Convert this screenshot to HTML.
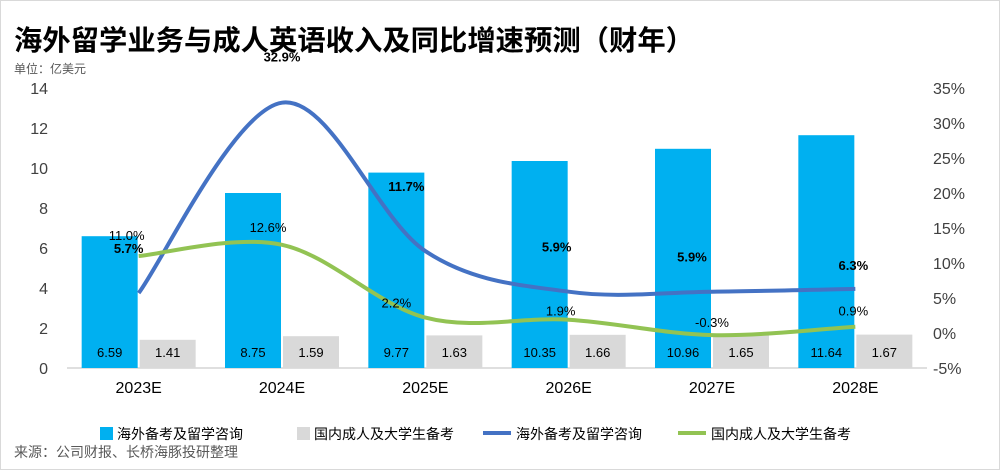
<!DOCTYPE html>
<html><head><meta charset="utf-8">
<style>
body{margin:0;background:#fff;}
svg text{font-family:"Liberation Sans","Noto Sans CJK SC",sans-serif;}
</style></head>
<body>
<svg id="c" width="1000" height="470" viewBox="0 0 1000 470" xmlns="http://www.w3.org/2000/svg">
<rect x="0.5" y="0.5" width="999" height="469" fill="#fff" stroke="#d9d9d9"/>
<text x="14" y="50" font-size="28" font-weight="bold" fill="#000" textLength="680" lengthAdjust="spacingAndGlyphs">海外留学业务与成人英语收入及同比增速预测（财年）</text>
<text x="14" y="73" font-size="12" fill="#595959">单位：亿美元</text>
<text x="14" y="457" font-size="14" fill="#595959">来源：公司财报、长桥海豚投研整理</text>
<g id="plot"></g>
</svg>
<script>
const categories=["2023E","2024E","2025E","2026E","2027E","2028E"];
const overseasRev=[6.59,8.75,9.77,10.35,10.96,11.64];
const domesticRev=[1.41,1.59,1.63,1.66,1.65,1.67];
const overseasGrowth=[5.7,32.9,11.7,5.9,5.9,6.3];
const domesticGrowth=[11.0,12.6,2.2,1.9,-0.3,0.9];
const leftTicks=[0,2,4,6,8,10,12,14];
const rightTicks=[-5,0,5,10,15,20,25,30,35];

const NS="http://www.w3.org/2000/svg";
const g=document.getElementById('plot');
const L=67,R=927,T=88,B=368;
const bw=(R-L)/categories.length;
const cx=i=>L+bw*(i+0.5);
const yL=v=>B-(v/14)*(B-T);
const yR=v=>B-((v+5)/40)*(B-T);
function mk(tag,a,txt){const e=document.createElementNS(NS,tag);for(const k in a)e.setAttribute(k,a[k]);if(txt!==undefined)e.textContent=txt;g.appendChild(e);return e;}

let ax=mk('line',{x1:L,x2:R,y1:B,y2:B,stroke:'#bfbfbf','stroke-width':1});


leftTicks.forEach(v=>{const t=mk('text',{x:L-19,y:yL(v)+6,'font-size':16,'text-anchor':'end',fill:'#404040'},v);

});
rightTicks.forEach(v=>{const t=mk('text',{x:933,y:yR(v)+6,'font-size':16,fill:'#404040'},v+'%');

});
categories.forEach((c,i)=>{const t=mk('text',{x:cx(i),y:393,'font-size':16,'text-anchor':'middle',fill:'#000'},c);

});
categories.forEach((c,i)=>{
 const x=cx(i);
 let b=mk('rect',{x:x-57,y:yL(overseasRev[i]),width:56,height:B-yL(overseasRev[i]),fill:'#00b0f0'});
 
 
 let b2=mk('rect',{x:x+1,y:yL(domesticRev[i]),width:56,height:B-yL(domesticRev[i]),fill:'#d9d9d9'});
 
 
 let t=mk('text',{x:x-29,y:357,'font-size':13,'text-anchor':'middle',fill:'#000'},overseasRev[i].toFixed(2));
 
 
 let t2=mk('text',{x:x+29,y:357,'font-size':13,'text-anchor':'middle',fill:'#000'},domesticRev[i].toFixed(2));
 
 
});
function smooth(pts){let d='M'+pts[0][0]+','+pts[0][1];
 for(let i=0;i<pts.length-1;i++){const p0=pts[i-1]||pts[i],p1=pts[i],p2=pts[i+1],p3=pts[i+2]||p2;const k=1/6;
 d+=` C${p1[0]+(p2[0]-p0[0])*k},${p1[1]+(p2[1]-p0[1])*k} ${p2[0]-(p3[0]-p1[0])*k},${p2[1]-(p3[1]-p1[1])*k} ${p2[0]},${p2[1]}`;}return d;}
let lb=mk('path',{d:smooth(overseasGrowth.map((v,i)=>[cx(i),yR(v)])),fill:'none',stroke:'#4472c4','stroke-width':4});


let lg=mk('path',{d:smooth(domesticGrowth.map((v,i)=>[cx(i),yR(v)])),fill:'none',stroke:'#92c353','stroke-width':4});


const bOff=[[-10,-40],[0,-41],[-19,-60],[-12,-40],[-20,-30],[-2,-19]];
const gOff=[[-12,-16],[-14,-13],[-29,-10],[-8,-4],[0,-8],[-2,-11]];
overseasGrowth.forEach((v,i)=>{let t=mk('text',{x:cx(i)+bOff[i][0],y:yR(v)+bOff[i][1],'font-size':13,'font-weight':'bold','text-anchor':'middle',fill:'#000'},v.toFixed(1)+'%');

});
domesticGrowth.forEach((v,i)=>{let t=mk('text',{x:cx(i)+gOff[i][0],y:yR(v)+gOff[i][1],'font-size':13,'text-anchor':'middle',fill:'#000'},v.toFixed(1)+'%');

});
const leg=[['rect','#00b0f0',100,'海外备考及留学咨询'],['rect','#d9d9d9',297,'国内成人及大学生备考'],['line','#4472c4',495,'海外备考及留学咨询'],['line','#92c353',690,'国内成人及大学生备考']];
leg.forEach(l=>{let s;
 if(l[0]=='rect')s=mk('rect',{x:l[2],y:427,width:13,height:13,fill:l[1]});
 else s=mk('line',{x1:l[2]-12,x2:l[2]+16,y1:433,y2:433,stroke:l[1],'stroke-width':4});
 
 
 let t=mk('text',{x:l[2]+(l[0]=='rect'?17:21),y:439,'font-size':14,fill:'#000'},l[3]);
 
 
});
</script>
</body></html>
